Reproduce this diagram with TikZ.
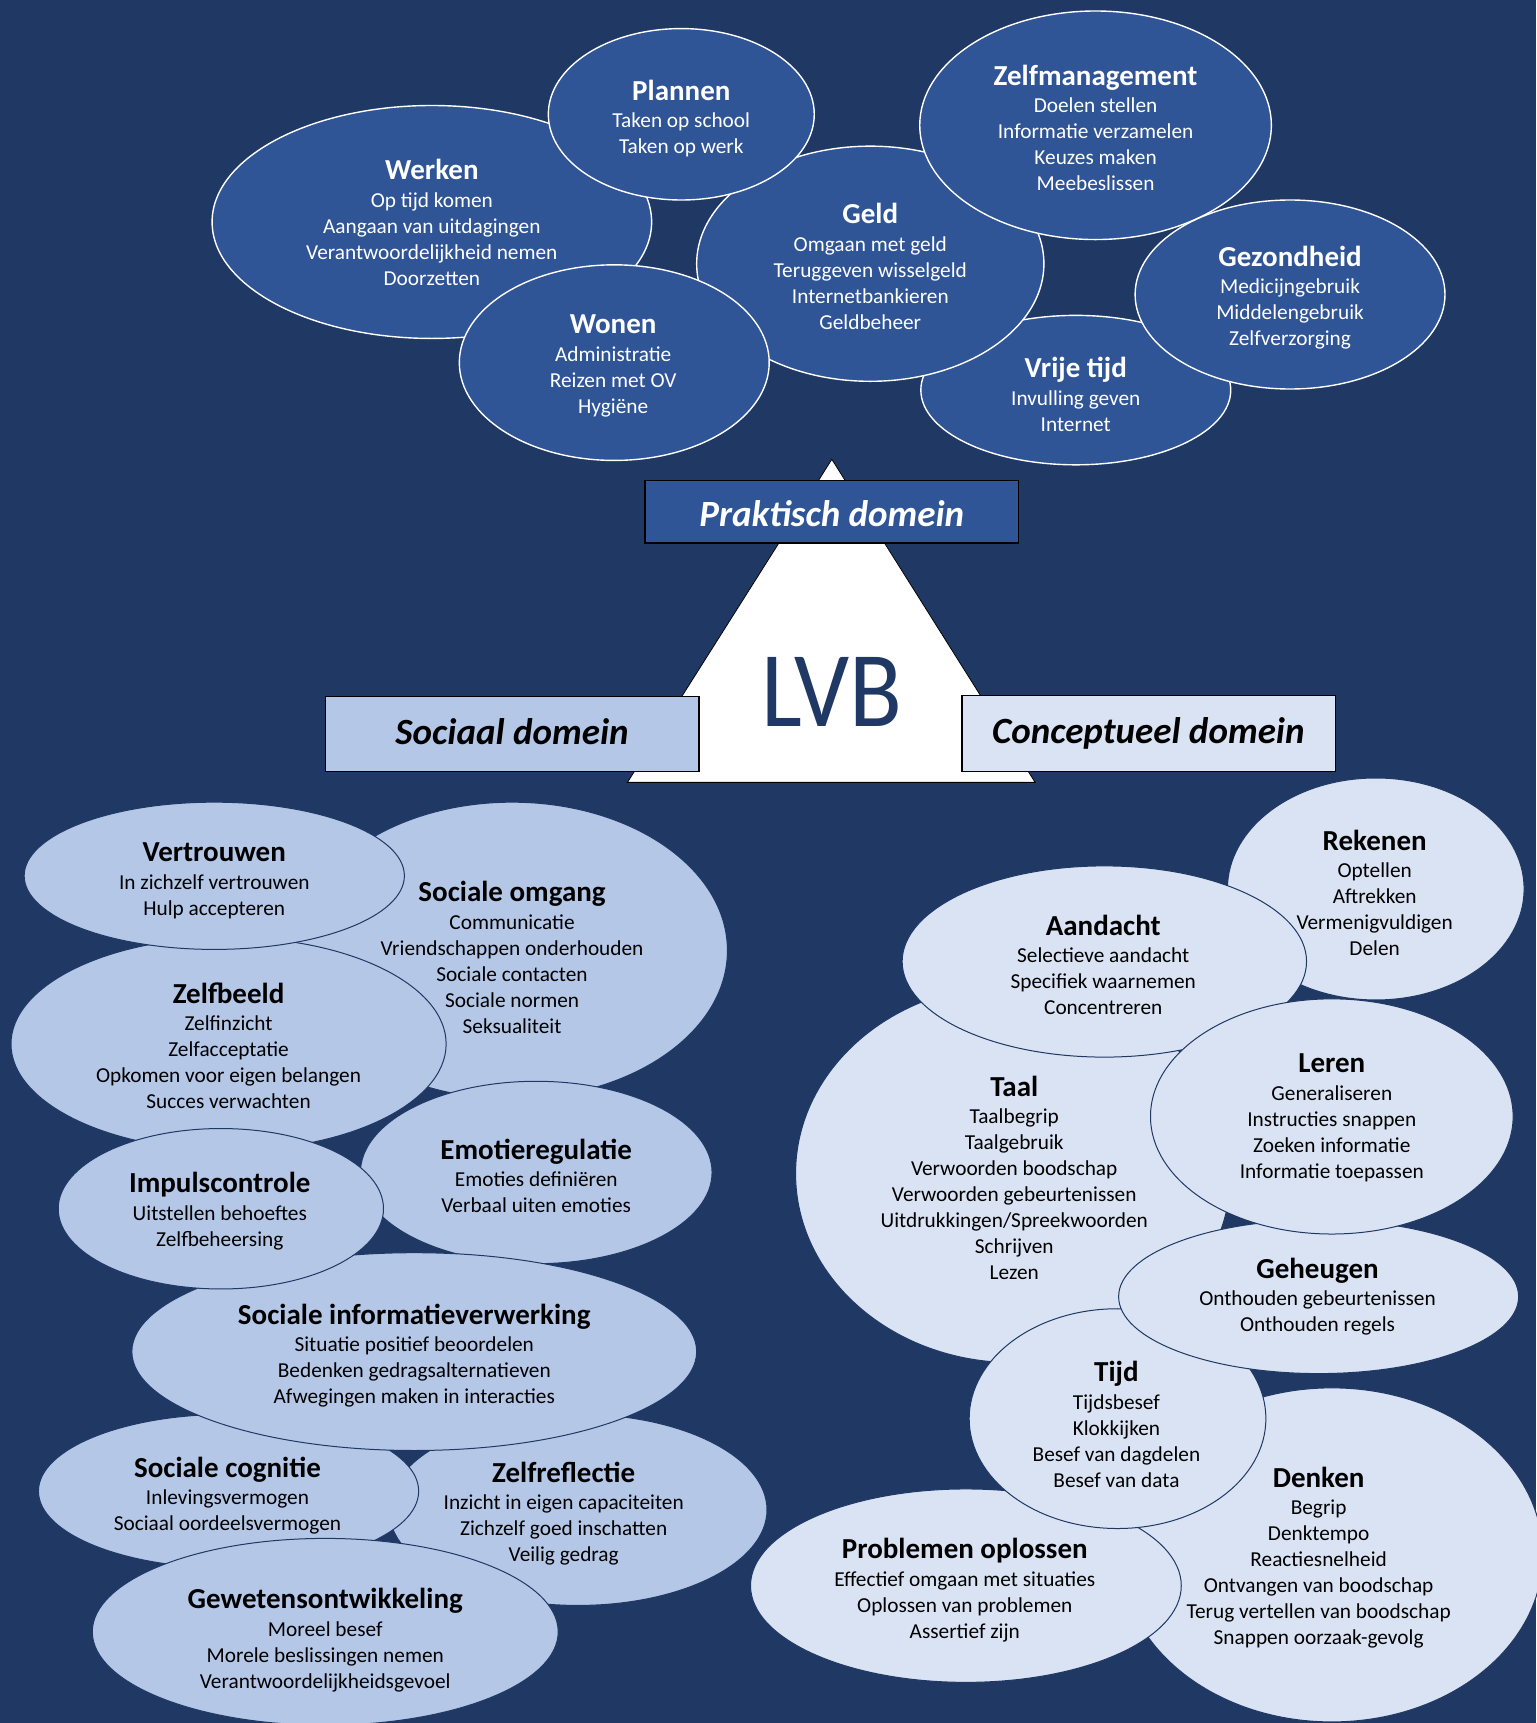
\documentclass[tikz,border=0pt]{standalone}
\usepackage{fontspec}
\setmainfont{Carlito}
\usetikzlibrary{shapes.geometric}
\definecolor{bgnavy}{HTML}{203864}
\definecolor{topblue}{HTML}{2F5597}
\definecolor{socblue}{HTML}{B4C7E7}
\definecolor{conblue}{HTML}{DAE3F3}
\definecolor{lvbcol}{HTML}{1F3864}
\newcommand\ttl[1]{{\fontsize{29}{29}\selectfont\bfseries #1}\\[1.6pt]}
\begin{document}
\begin{tikzpicture}[x=1.0987pt,y=-1.0987pt,
  sz/.style 2 args={ellipse, inner sep=0pt, minimum width={2.1974pt*#1}, minimum height={2.1974pt*#2}},
  topell/.style={fill=topblue, draw=white, line width=1.4pt},
  socell/.style={fill=socblue, draw=lvbcol, line width=1pt},
  conell/.style={fill=conblue, draw=lvbcol, line width=1pt},
  wtxt/.style={align=center, inner sep=0pt, text=white, font=\fontsize{21.3}{26}\selectfont},
  btxt/.style={align=center, inner sep=0pt, text=black, font=\fontsize{21.3}{26}\selectfont},
  dombox/.style={rectangle, inner sep=0pt, draw=black, line width=1.4pt, minimum width={1.0987pt*340}, minimum height={1.0987pt*#1}},
  domtxt/.style={font=\fontsize{37}{37}\selectfont\bfseries\itshape, inner sep=0pt}
]
\path[fill=bgnavy] (0,0) rectangle (1398,1568);
\useasboundingbox (0,0) rectangle (1398,1568);

% ---------- Praktisch domein ----------
\node[topell, sz={200}{106}] (werkenE) at (393,202) {};
\node[topell, sz={141}{68}]  (vrijeE) at (979,355) {};
\node[topell, sz={158}{107}] (geldE) at (792,240) {};
\node[topell, sz={121}{78}]  (plannenE) at (620,104) {};
\node[topell, sz={141}{89}]  (wonenE) at (559,330) {};
\node[topell, sz={160}{104}] (zelfmE) at (997,114) {};
\node[topell, sz={141}{86}]  (gezE) at (1174,268) {};

\node[wtxt] (werkenT) at (393,202.5) {\ttl{Werken}Op tijd komen\\Aangaan van uitdagingen\\Verantwoordelijkheid nemen\\Doorzetten};
\node[wtxt] (plannenT) at (620,108) {\ttl{Plannen}Taken op school\\Taken op werk};
\node[wtxt] (zelfmT) at (997,116.5) {\ttl{Zelfmanagement}Doelen stellen\\Informatie verzamelen\\Keuzes maken\\Meebeslissen};
\node[wtxt] (geldT) at (792,242.5) {\ttl{Geld}Omgaan met geld\\Teruggeven wisselgeld\\Internetbankieren\\Geldbeheer};
\node[wtxt] (gezT) at (1174,271) {\ttl{Gezondheid}Medicijngebruik\\Middelengebruik\\Zelfverzorging};
\node[wtxt] (wonenT) at (558,333) {\ttl{Wonen}Administratie\\Reizen met OV\\Hygiëne};
\node[wtxt] (vrijeT) at (979,359) {\ttl{Vrije tijd}Invulling geven\\Internet};

% ---------- Triangle and domains ----------
\coordinate (apex) at (757,418);
\coordinate (baseL) at (571,712);
\coordinate (baseR) at (942,712);
\draw[fill=white, draw=black, line width=0.8pt] (apex) -- (baseR) -- (baseL) -- cycle;
\node[dombox=57, fill=topblue] (praktB) at (757,465.5) {};
\node[domtxt, text=white] (praktT) at (757,467) {Praktisch domein};
\node[dombox=68, fill=socblue] (sociaalB) at (466,668) {};
\node[domtxt, text=black] (sociaalT) at (466,666) {Sociaal domein};
\node[dombox=69, fill=conblue] (conceptB) at (1045.5,667.5) {};
\node[domtxt, text=black] (conceptT) at (1045,667) {Conceptueel domein};
\node[inner sep=0pt, text=lvbcol, font=\fontsize{97}{97}\selectfont] (lvb) at (757,630) {\scalebox{1}[1.11]{LVB}};

% ---------- Sociaal domein ----------
\node[socell, sz={196}{135}] (omgangE) at (466,865) {};
\node[socell, sz={198}{97}]  (zelfbE) at (208,950) {};
\node[socell, sz={173}{67}]  (vertrE) at (195,797) {};
\node[socell, sz={160}{83}]  (emoE) at (488,1067) {};
\node[socell, sz={172}{87}]  (reflE) at (526,1374) {};
\node[socell, sz={173}{70}]  (cogE) at (208,1357) {};
\node[socell, sz={257}{90}]  (sivE) at (377,1230) {};
\node[socell, sz={148}{73}]  (impE) at (201,1100) {};
\node[socell, sz={212}{85}]  (gewE) at (296,1485) {};

\node[btxt] (vertrT) at (195,801.5) {\ttl{Vertrouwen}In zichzelf vertrouwen\\Hulp accepteren};
\node[btxt] (omgangT) at (466,871.5) {\ttl{Sociale omgang}Communicatie\\Vriendschappen onderhouden\\Sociale contacten\\Sociale normen\\Seksualiteit};
\node[btxt] (zelfbT) at (208,951.5) {\ttl{Zelfbeeld}Zelfinzicht\\Zelfacceptatie\\Opkomen voor eigen belangen\\Succes verwachten};
\node[btxt] (emoT) at (488,1070) {\ttl{Emotieregulatie}Emoties definiëren\\Verbaal uiten emoties};
\node[btxt] (impT) at (200,1102) {\ttl{Impulscontrole}Uitstellen behoeftes\\Zelfbeheersing};
\node[btxt] (sivT) at (377,1233.5) {\ttl{Sociale informatieverwerking}Situatie positief beoordelen\\Bedenken gedragsalternatieven\\Afwegingen maken in interacties};
\node[btxt] (cogT) at (207,1361) {\ttl{Sociale cognitie}Inlevingsvermogen\\Sociaal oordeelsvermogen};
\node[btxt] (reflT) at (513,1377.5) {\ttl{Zelfreflectie}Inzicht in eigen capaciteiten\\Zichzelf goed inschatten\\Veilig gedrag};
\node[btxt] (gewT) at (296,1492.5) {\ttl{Gewetensontwikkeling}Moreel besef\\Morele beslissingen nemen\\Verantwoordelijkheidsgevoel};

% ---------- Conceptueel domein ----------
\node[conell, sz={135}{101}] (rekE) at (1252,809) {};
\node[conell, sz={198}{172}] (taalE) at (922,1068) {};
\node[conell, sz={184}{87}]  (aandE) at (1005,875) {};
\node[conell, sz={192}{152}] (denkE) at (1212,1415) {};
\node[conell, sz={196}{88}]  (probE) at (879,1443) {};
\node[conell, sz={135}{100}] (tijdE) at (1017,1291) {};
\node[conell, sz={182}{70}]  (gehE) at (1200,1180) {};
\node[conell, sz={165}{107}] (lerenE) at (1212,1016) {};

\node[btxt] (rekT) at (1251,812.5) {\ttl{Rekenen}Optellen\\Aftrekken\\Vermenigvuldigen\\Delen};
\node[btxt] (aandT) at (1004,878) {\ttl{Aandacht}Selectieve aandacht\\Specifiek waarnemen\\Concentreren};
\node[btxt] (taalT) at (923,1072) {\ttl{Taal}Taalbegrip\\Taalgebruik\\Verwoorden boodschap\\Verwoorden gebeurtenissen\\Uitdrukkingen/Spreekwoorden\\Schrijven\\Lezen};
\node[btxt] (lerenT) at (1212,1017) {\ttl{Leren}Generaliseren\\Instructies snappen\\Zoeken informatie\\Informatie toepassen};
\node[btxt] (gehT) at (1199,1180) {\ttl{Geheugen}Onthouden gebeurtenissen\\Onthouden regels};
\node[btxt] (tijdT) at (1016,1296.5) {\ttl{Tijd}Tijdsbesef\\Klokkijken\\Besef van dagdelen\\Besef van data};
\node[btxt] (denkT) at (1200,1417.5) {\ttl{Denken}Begrip\\Denktempo\\Reactiesnelheid\\Ontvangen van boodschap\\Terug vertellen van boodschap\\Snappen oorzaak-gevolg};
\node[btxt] (probT) at (878,1447) {\ttl{Problemen oplossen}Effectief omgaan met situaties\\Oplossen van problemen\\Assertief zijn};
\end{tikzpicture}
\end{document}
